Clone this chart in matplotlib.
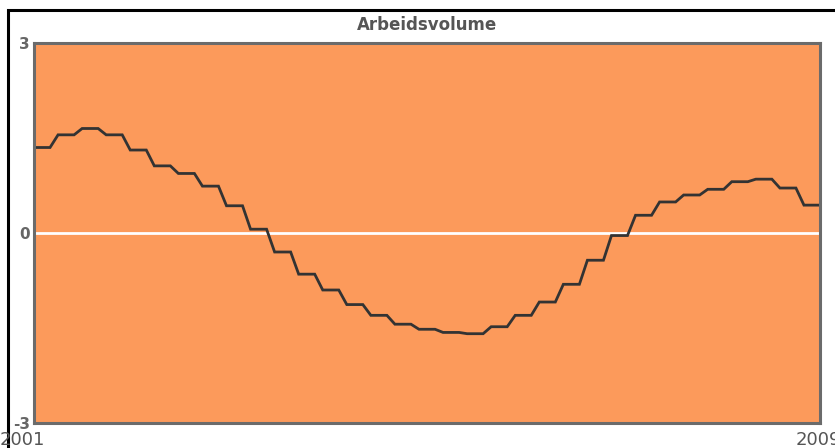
import matplotlib
matplotlib.use("Agg")
import matplotlib.pyplot as plt
from matplotlib.patches import Rectangle
import numpy as np

# quarterly levels of the index, 2001Q1 .. 2009Q1 (shown as monthly series)
quarter_values = [1.35, 1.55, 1.65, 1.55, 1.31, 1.06, 0.94, 0.74, 0.43,
                  0.06, -0.30, -0.65, -0.90, -1.13, -1.30, -1.44, -1.52,
                  -1.57, -1.59, -1.48, -1.30, -1.09, -0.81, -0.43, -0.04,
                  0.28, 0.49, 0.60, 0.69, 0.81, 0.85, 0.71, 0.44]
months_per_quarter = 3
monthly_values = np.repeat(quarter_values, months_per_quarter)
x_labels = ["2001", "2009"]
y_ticks = [3, 0, -3]
title = "Arbeidsvolume"

W, H = 835, 448
fig = plt.figure(figsize=(W / 100, H / 100), dpi=100)
fig.patch.set_facecolor("white")

# outer black frame (runs off the right and bottom edges)
fig.patches.append(Rectangle((8 / W, -0.05), 1.1, 1 - 10 / H + 0.05,
                             transform=fig.transFigure, fill=False,
                             edgecolor="black", linewidth=2.2))

left, right, top, bottom = 34, 820, 43, 423
ax = fig.add_axes([left / W, 1 - bottom / H, (right - left) / W, (bottom - top) / H])
ax.set_facecolor("#fc9a5b")

x = np.arange(len(monthly_values))
ax.axhline(0, color="white", linewidth=2)
ax.plot(x, monthly_values, color="#333333", linewidth=2.0, solid_joinstyle="miter")

ax.set_xlim(0, len(monthly_values) - 1)
ax.set_ylim(-3, 3)
for s in ax.spines.values():
    s.set_color("#6b6b6b")
    s.set_linewidth(2.2)
ax.set_xticks([])
ax.set_yticks(y_ticks)
ax.set_yticklabels([str(v) for v in y_ticks], fontsize=11, fontweight="bold", color="#666666")
ax.tick_params(axis="y", length=0, pad=3)

fig.text(427 / W, 1 - 25 / H, title, fontsize=12, fontweight="bold",
         color="#555555", ha="center", va="center")

fig.text(0 / W, 1 - 440 / H, x_labels[0], fontsize=13, color="#555555", ha="left", va="center")
fig.text(796 / W, 1 - 440 / H, x_labels[1], fontsize=13, color="#555555", ha="left", va="center")

fig.savefig("out.png", dpi=100)
